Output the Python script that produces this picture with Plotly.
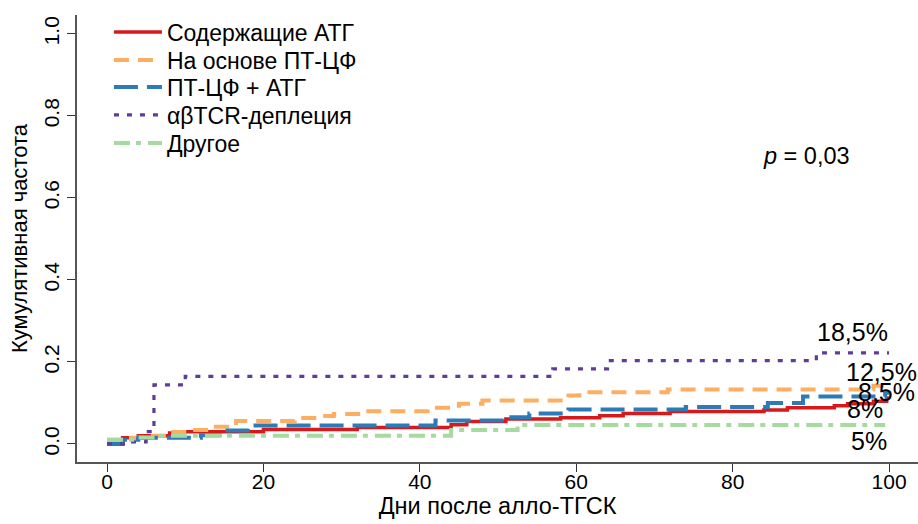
import plotly.graph_objects as go

# ---- data (step functions: value holds from x until next x) ----
atg_x = [0, 2, 4, 8, 9.5, 20, 32, 44, 46, 51, 58, 63, 66, 72, 84, 87, 93, 94.7, 98, 99.7]
atg_y = [0.010, 0.015, 0.020, 0.027, 0.030, 0.035, 0.040, 0.047, 0.055, 0.061, 0.064, 0.069, 0.074, 0.079, 0.083, 0.088, 0.093, 0.098, 0.104, 0.112]

ptcy_x = [0, 2, 5, 8, 10.5, 13.5, 16.5, 24, 27.4, 29, 33, 41, 45, 48, 59, 60.4, 71.7, 98]
ptcy_y = [0.010, 0.015, 0.020, 0.029, 0.034, 0.042, 0.056, 0.063, 0.068, 0.073, 0.080, 0.088, 0.098, 0.106, 0.118, 0.126, 0.133, 0.142]

ptcy_atg_x = [0, 2, 4, 12, 15, 18, 42, 51, 54, 59, 74, 84.5, 89, 99.5]
ptcy_atg_y = [0.000, 0.010, 0.015, 0.021, 0.033, 0.045, 0.057, 0.065, 0.074, 0.084, 0.090, 0.100, 0.116, 0.125]

abtcr_x = [0, 3, 5, 6, 10, 57, 64, 90.7]
abtcr_y = [0.000, 0.005, 0.030, 0.144, 0.165, 0.183, 0.203, 0.222]

other_x = [0, 4.3, 6.5, 44, 52.5]
other_y = [0.010, 0.016, 0.020, 0.034, 0.046]

series_names = ["Содержащие АТГ", "На основе ПТ-ЦФ", "ПТ-ЦФ + АТГ", "αβTCR-деплеция", "Другое"]
series_x = [atg_x, ptcy_x, ptcy_atg_x, abtcr_x, other_x]
series_y = [atg_y, ptcy_y, ptcy_atg_y, abtcr_y, other_y]
series_end = [100, 100, 100, 100, 99.5]

pct_labels = ["18,5%", "12,5%", "8,5%", "8%", "5%"]
pct_x = [95.3, 99.0, 99.7, 96.9, 97.4]
pct_y = [0.273, 0.176, 0.127, 0.085, 0.007]

x_ticks = [0, 20, 40, 60, 80, 100]
y_ticks = [0.0, 0.2, 0.4, 0.6, 0.8, 1.0]

# ---- styles ----
colors = ["#d7191c", "#fdae61", "#2c7bb6", "#5e3c99", "#a6dba0"]
dashes = ["solid", "15px,9px", "24px,9px", "5px,8px", "16px,6px,5px,7px"]
widths = [3.5, 4, 4, 3.2, 4]
legend_ids = ["legend", "legend2", "legend3", "legend4", "legend5"]
legend_rows_px = [32, 60, 87, 115, 143]

fig = go.Figure()
for name, xs, ys, xe, c, d, w, lg in zip(series_names, series_x, series_y, series_end,
                                         colors, dashes, widths, legend_ids):
    fig.add_trace(go.Scatter(
        x=list(xs) + [xe], y=list(ys) + [ys[-1]],
        mode="lines", name=name, legend=lg, line=dict(color=c, dash=d, width=w, shape="hv"),
    ))

for t, xx, yy in zip(pct_labels, pct_x, pct_y):
    fig.add_annotation(x=xx, y=yy, text=t, showarrow=False, xanchor="center", yanchor="middle",
                       font=dict(size=25, color="#000"))

fig.add_annotation(x=89.5, y=0.702, text="<i>p</i> = 0,03", showarrow=False, xanchor="center",
                   yanchor="middle", font=dict(size=23.5, color="#000"))

plot_top, plot_bottom = 15, 462
legend_layout = {}
for lg, py in zip(legend_ids, legend_rows_px):
    legend_layout[lg] = dict(x=0.038, y=(plot_bottom - py) / (plot_bottom - plot_top),
                             xanchor="left", yanchor="middle", bgcolor="rgba(0,0,0,0)",
                             font=dict(size=23), itemwidth=48)

axis_font = dict(family="Arial, Liberation Sans, sans-serif", size=21, color="#000")
fig.update_layout(
    width=918, height=524,
    margin=dict(l=77, r=0, t=plot_top, b=524 - plot_bottom),
    paper_bgcolor="white", plot_bgcolor="white",
    font=dict(family="Arial, Liberation Sans, sans-serif", color="#000"),
    showlegend=True,
    xaxis=dict(range=[-3.84, 103.7], tickvals=x_ticks, ticks="outside", ticklen=8, tickcolor="#333",
               showline=True, linecolor="#555", linewidth=1.5, showgrid=False, zeroline=False,
               tickfont=axis_font, ticklabelstandoff=-8,
               title=dict(text="Дни после алло-ТГСК", font=dict(size=23.5), standoff=4),
               automargin=False),
    yaxis=dict(range=[-0.044, 1.046], tickvals=y_ticks, ticktext=[f"{v:.1f}" for v in y_ticks],
               ticks="outside", ticklen=8, tickcolor="#333", tickangle=-90,
               showline=True, linecolor="#555", linewidth=1.5, showgrid=False, zeroline=False,
               tickfont=axis_font,
               title=dict(text="Кумулятивная частота", font=dict(size=22), standoff=6),
               automargin=False),
    **legend_layout,
)

fig.write_html("out.html")
